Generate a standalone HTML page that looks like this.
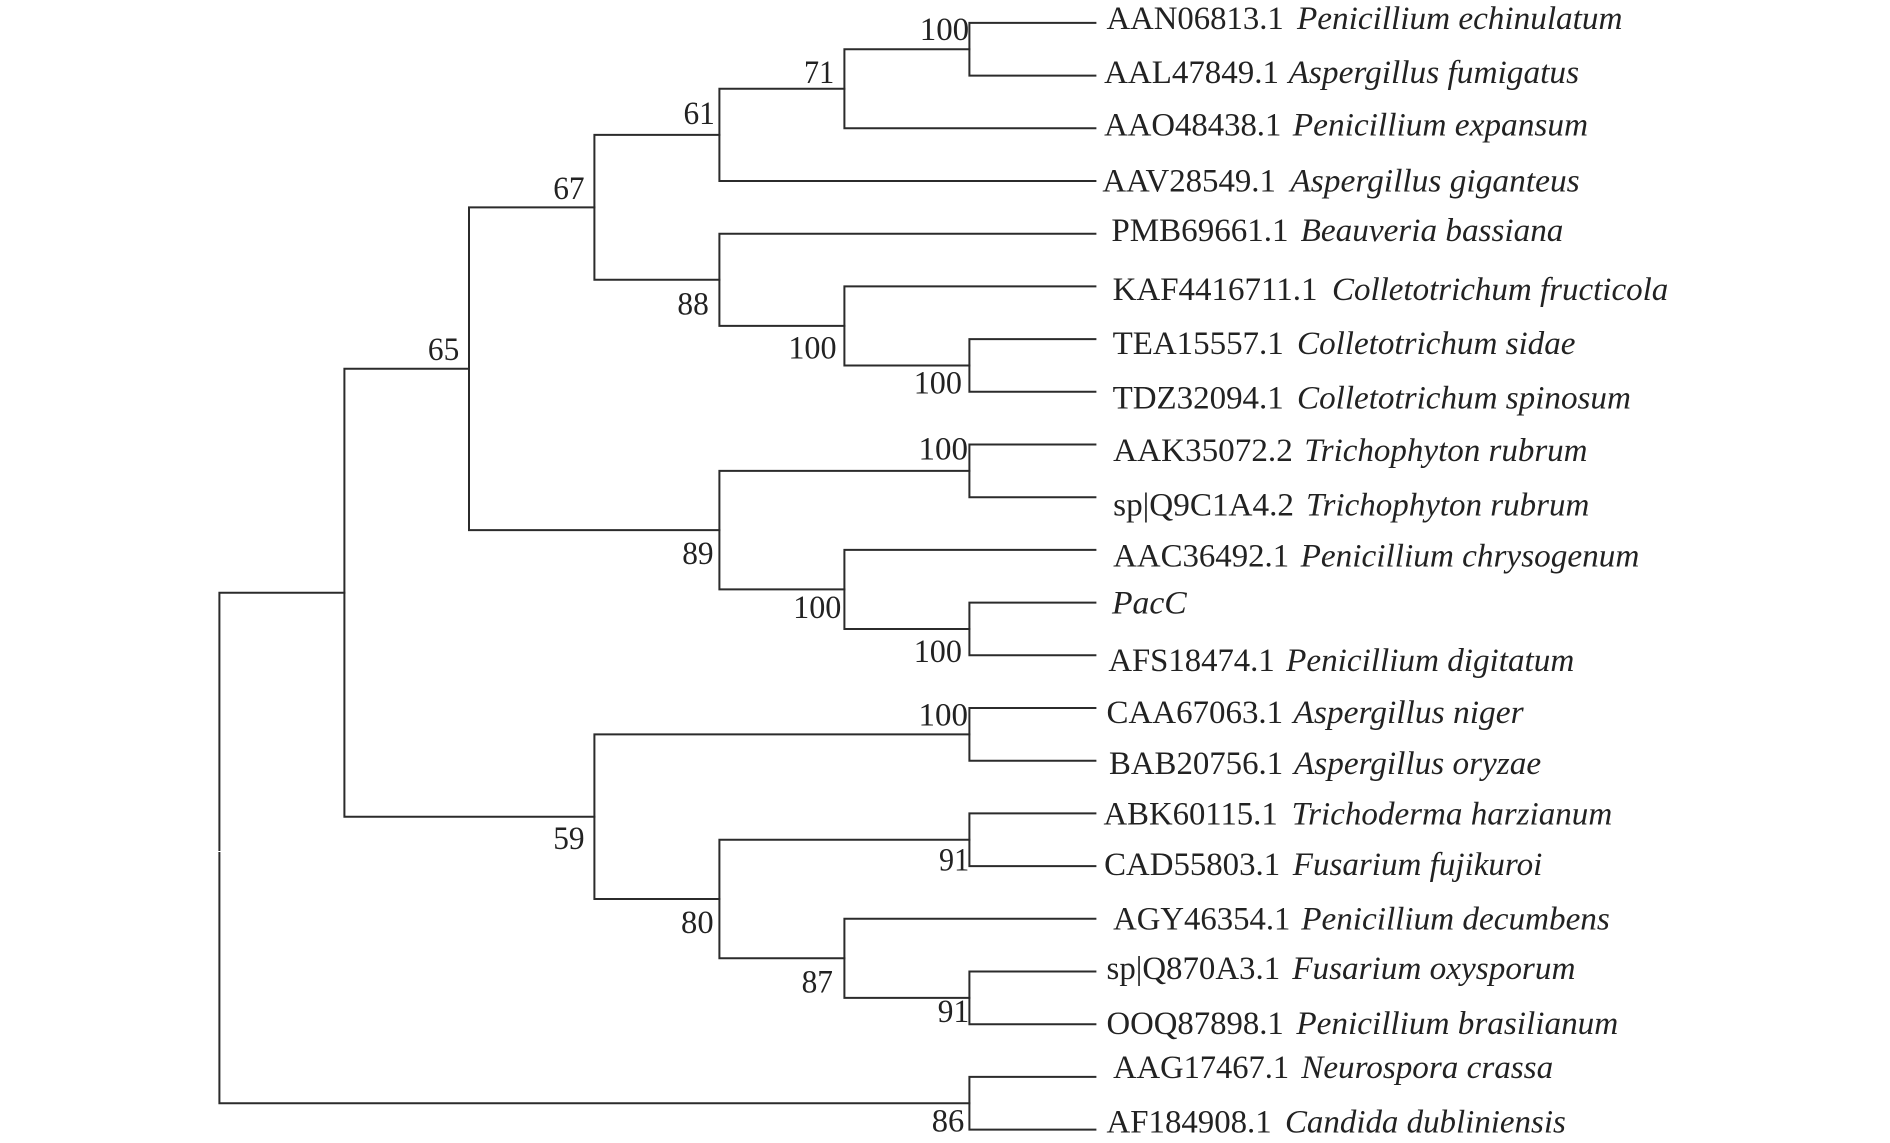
<!DOCTYPE html>
<html><head><meta charset="utf-8"><style>
html,body{margin:0;padding:0;background:#fff}
svg{display:block}
text{font-family:"Liberation Serif",serif;font-size:27.5px;fill:#222}
.s{font-style:italic}
</style></head><body>
<svg width="1890" height="1143" viewBox="0 0 1890 1143" xmlns="http://www.w3.org/2000/svg">
<rect width="1890" height="1143" fill="#fff"/>
<g fill="none" stroke="#2b2b2b" stroke-width="2" stroke-linejoin="miter" stroke-linecap="square">
<path d="M344.4 592.7H219.4V1103.3H969.4"/>
<path d="M969.4 1076.9H1095.4M969.4 1129.6H1095.4M969.4 1076.9V1129.6"/>
<path d="M344.4 368.7V816.7M344.4 368.7H469M344.4 816.7H594.4"/>
<path d="M469 207.4V530.1M469 207.4H594.4M469 530.1H719.4"/>
<path d="M594.4 134.9V279.8M594.4 134.9H719.4M594.4 279.8H719.4"/>
<path d="M719.4 88.8V181M719.4 88.8H844.4M719.4 181H1095.4"/>
<path d="M844.4 49.3V128.3M844.4 49.3H969.4M844.4 128.3H1095.4"/>
<path d="M969.4 22.9V75.6M969.4 22.9H1095.4M969.4 75.6H1095.4"/>
<path d="M719.4 233.7H1095.4M719.4 233.7V325.9M719.4 325.9H844.4"/>
<path d="M844.4 286.4H1095.4M844.4 286.4V365.5M844.4 365.5H969.4"/>
<path d="M969.4 339.1V391.8M969.4 339.1H1095.4M969.4 391.8H1095.4"/>
<path d="M719.4 470.9V589.4M719.4 470.9H969.4M719.4 589.4H844.4"/>
<path d="M969.4 444.5V497.2M969.4 444.5H1095.4M969.4 497.2H1095.4"/>
<path d="M844.4 549.9H1095.4M844.4 549.9V629H969.4"/>
<path d="M969.4 602.6V655.3M969.4 602.6H1095.4M969.4 655.3H1095.4"/>
<path d="M594.4 734.4V899M594.4 734.4H969.4M594.4 899H719.4"/>
<path d="M969.4 708V760.7M969.4 708H1095.4M969.4 760.7H1095.4"/>
<path d="M719.4 839.8V958.3M719.4 839.8H969.4M719.4 958.3H844.4"/>
<path d="M969.4 813.4V866.1M969.4 813.4H1095.4M969.4 866.1H1095.4"/>
<path d="M844.4 918.8H1095.4M844.4 918.8V997.9H969.4"/>
<path d="M969.4 971.5V1024.2M969.4 971.5H1095.4M969.4 1024.2H1095.4"/>
</g>
<rect x="217" y="851" width="5" height="1" fill="#fff"/>
<g transform="scale(1.2054)">
<text x="918" y="24" textLength="147" lengthAdjust="spacingAndGlyphs">AAN06813.1</text><text class="s" x="1076" y="24" textLength="270" lengthAdjust="spacingAndGlyphs">Penicillium echinulatum</text>
<text x="916" y="69" textLength="145" lengthAdjust="spacingAndGlyphs">AAL47849.1</text><text class="s" x="1069" y="69" textLength="241" lengthAdjust="spacingAndGlyphs">Aspergillus fumigatus</text>
<text x="916" y="112.5" textLength="147" lengthAdjust="spacingAndGlyphs">AAO48438.1</text><text class="s" x="1072.5" y="112.5" textLength="245" lengthAdjust="spacingAndGlyphs">Penicillium expansum</text>
<text x="914.5" y="159" textLength="144" lengthAdjust="spacingAndGlyphs">AAV28549.1</text><text class="s" x="1070.5" y="159" textLength="240" lengthAdjust="spacingAndGlyphs">Aspergillus giganteus</text>
<text x="922" y="200" textLength="147" lengthAdjust="spacingAndGlyphs">PMB69661.1</text><text class="s" x="1079" y="200" textLength="218" lengthAdjust="spacingAndGlyphs">Beauveria bassiana</text>
<text x="923" y="249" textLength="170" lengthAdjust="spacingAndGlyphs">KAF4416711.1</text><text class="s" x="1105" y="249" textLength="279" lengthAdjust="spacingAndGlyphs">Colletotrichum fructicola</text>
<text x="923" y="293.5" textLength="142" lengthAdjust="spacingAndGlyphs">TEA15557.1</text><text class="s" x="1076" y="293.5" textLength="231" lengthAdjust="spacingAndGlyphs">Colletotrichum sidae</text>
<text x="923" y="339" textLength="142" lengthAdjust="spacingAndGlyphs">TDZ32094.1</text><text class="s" x="1076" y="339" textLength="277" lengthAdjust="spacingAndGlyphs">Colletotrichum spinosum</text>
<text x="923.5" y="382.5" textLength="149" lengthAdjust="spacingAndGlyphs">AAK35072.2</text><text class="s" x="1082" y="382.5" textLength="235" lengthAdjust="spacingAndGlyphs">Trichophyton rubrum</text>
<text x="923.5" y="427.5" textLength="150" lengthAdjust="spacingAndGlyphs">sp|Q9C1A4.2</text><text class="s" x="1083.5" y="427.5" textLength="235" lengthAdjust="spacingAndGlyphs">Trichophyton rubrum</text>
<text x="923.5" y="470" textLength="146" lengthAdjust="spacingAndGlyphs">AAC36492.1</text><text class="s" x="1079" y="470" textLength="281" lengthAdjust="spacingAndGlyphs">Penicillium chrysogenum</text>
<text class="s" x="922.5" y="509" textLength="62" lengthAdjust="spacingAndGlyphs">PacC</text>
<text x="919.5" y="556.5" textLength="138" lengthAdjust="spacingAndGlyphs">AFS18474.1</text><text class="s" x="1067" y="556.5" textLength="239" lengthAdjust="spacingAndGlyphs">Penicillium digitatum</text>
<text x="918" y="600" textLength="146.5" lengthAdjust="spacingAndGlyphs">CAA67063.1</text><text class="s" x="1073" y="600" textLength="191" lengthAdjust="spacingAndGlyphs">Aspergillus niger</text>
<text x="920" y="642" textLength="144.5" lengthAdjust="spacingAndGlyphs">BAB20756.1</text><text class="s" x="1073.5" y="642" textLength="205" lengthAdjust="spacingAndGlyphs">Aspergillus oryzae</text>
<text x="915.5" y="684" textLength="144.5" lengthAdjust="spacingAndGlyphs">ABK60115.1</text><text class="s" x="1071.5" y="684" textLength="266" lengthAdjust="spacingAndGlyphs">Trichoderma harzianum</text>
<text x="916" y="726" textLength="146" lengthAdjust="spacingAndGlyphs">CAD55803.1</text><text class="s" x="1072.5" y="726" textLength="207" lengthAdjust="spacingAndGlyphs">Fusarium fujikuroi</text>
<text x="923.5" y="771" textLength="147" lengthAdjust="spacingAndGlyphs">AGY46354.1</text><text class="s" x="1079.5" y="771" textLength="256" lengthAdjust="spacingAndGlyphs">Penicillium decumbens</text>
<text x="918" y="812" textLength="144" lengthAdjust="spacingAndGlyphs">sp|Q870A3.1</text><text class="s" x="1072" y="812" textLength="235" lengthAdjust="spacingAndGlyphs">Fusarium oxysporum</text>
<text x="918" y="858" textLength="147" lengthAdjust="spacingAndGlyphs">OOQ87898.1</text><text class="s" x="1075.5" y="858" textLength="267" lengthAdjust="spacingAndGlyphs">Penicillium brasilianum</text>
<text x="923.5" y="894.5" textLength="146" lengthAdjust="spacingAndGlyphs">AAG17467.1</text><text class="s" x="1079.5" y="894.5" textLength="209" lengthAdjust="spacingAndGlyphs">Neurospora crassa</text>
<text x="918" y="939.5" textLength="137" lengthAdjust="spacingAndGlyphs">AF184908.1</text><text class="s" x="1066" y="939.5" textLength="233" lengthAdjust="spacingAndGlyphs">Candida dubliniensis</text>

<text x="763" y="33" textLength="41" lengthAdjust="spacingAndGlyphs">100</text>
<text x="667" y="69" textLength="25" lengthAdjust="spacingAndGlyphs">71</text>
<text x="567" y="103" textLength="26" lengthAdjust="spacingAndGlyphs">61</text>
<text x="459" y="165" textLength="26" lengthAdjust="spacingAndGlyphs">67</text>
<text x="355" y="298.5" textLength="26" lengthAdjust="spacingAndGlyphs">65</text>
<text x="562" y="261" textLength="26" lengthAdjust="spacingAndGlyphs">88</text>
<text x="654" y="297.5" textLength="40" lengthAdjust="spacingAndGlyphs">100</text>
<text x="758" y="326.5" textLength="40" lengthAdjust="spacingAndGlyphs">100</text>
<text x="762" y="381" textLength="41" lengthAdjust="spacingAndGlyphs">100</text>
<text x="566" y="468" textLength="26" lengthAdjust="spacingAndGlyphs">89</text>
<text x="658" y="512.5" textLength="40" lengthAdjust="spacingAndGlyphs">100</text>
<text x="758" y="549" textLength="40" lengthAdjust="spacingAndGlyphs">100</text>
<text x="762" y="602" textLength="41" lengthAdjust="spacingAndGlyphs">100</text>
<text x="459" y="704.5" textLength="26" lengthAdjust="spacingAndGlyphs">59</text>
<text x="779" y="722" textLength="25" lengthAdjust="spacingAndGlyphs">91</text>
<text x="565" y="774" textLength="27" lengthAdjust="spacingAndGlyphs">80</text>
<text x="665" y="823.5" textLength="26" lengthAdjust="spacingAndGlyphs">87</text>
<text x="778" y="848" textLength="26" lengthAdjust="spacingAndGlyphs">91</text>
<text x="773" y="938.5" textLength="27" lengthAdjust="spacingAndGlyphs">86</text>
</g>
</svg>
</body></html>
